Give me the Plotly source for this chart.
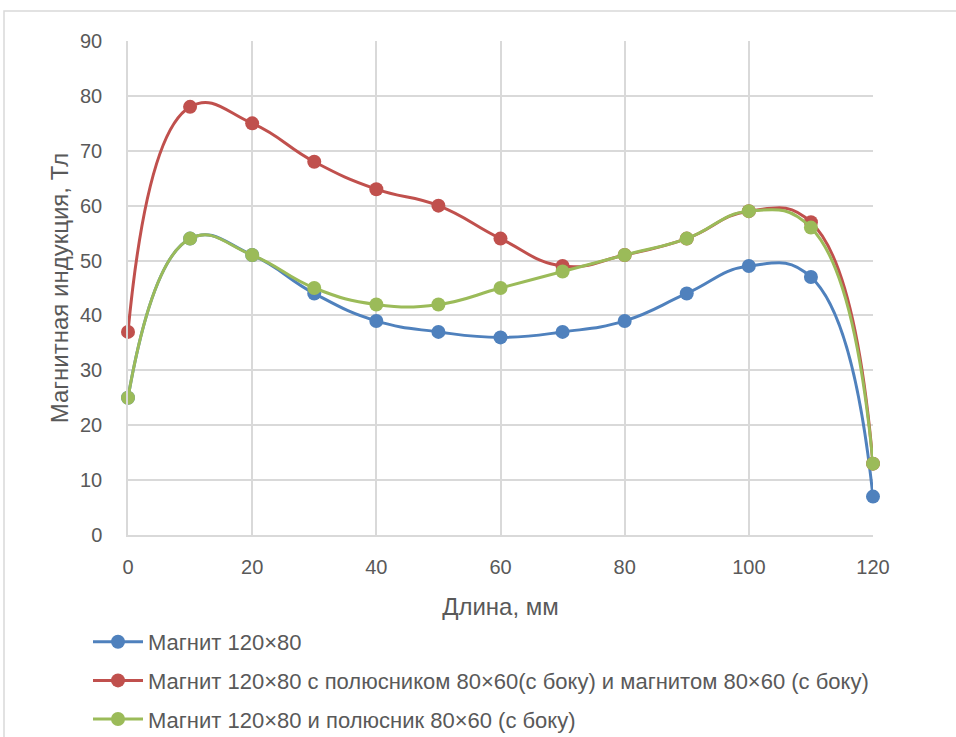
import plotly.graph_objects as go

# Position along the magnet, mm
length_mm = [0, 10, 20, 30, 40, 50, 60, 70, 80, 90, 100, 110, 120]

# Magnetic induction for each configuration
magnet_only = [25, 54, 51, 44, 39, 37, 36, 37, 39, 44, 49, 47, 7]
magnet_pole_magnet = [37, 78, 75, 68, 63, 60, 54, 49, 51, 54, 59, 57, 13]
magnet_pole = [25, 54, 51, 45, 42, 42, 45, 48, 51, 54, 59, 56, 13]

series_names = [
    "Магнит 120×80",
    "Магнит 120×80 с полюсником 80×60(с боку) и магнитом 80×60 (с боку)",
    "Магнит 120×80 и полюсник 80×60 (с боку)",
]
series_colors = ["#4F81BD", "#C0504D", "#9BBB59"]

FONT = "Liberation Sans, Arial, sans-serif"
TEXT_COLOR = "#595959"
GRID = "#D9D9D9"

fig = go.Figure()
for i, (name, values, color) in enumerate(zip(
        series_names, [magnet_only, magnet_pole_magnet, magnet_pole], series_colors)):
    fig.add_trace(go.Scatter(
        x=length_mm, y=values, name=name, legendgroup=f"g{i}",
        mode="lines+markers",
        line=dict(color=color, width=3, shape="spline", smoothing=1.3),
        marker=dict(color=color, size=14),
        cliponaxis=False,
    ))

W, H = 956, 737
L, R, T, B = 128, 83, 41, 202
pw, ph = W - L - R, H - T - B

def px_to_paper_x(px):
    return (px - L) / pw

def px_to_paper_y(py):
    return (H - B - py) / ph

fig.update_layout(
    width=W, height=H,
    margin=dict(l=L, r=R, t=T, b=B, pad=0, autoexpand=False),
    paper_bgcolor="white", plot_bgcolor="white",
    font=dict(family=FONT, size=19, color=TEXT_COLOR),
    showlegend=True,
    legend=dict(
        orientation="v",
        x=px_to_paper_x(88), y=px_to_paper_y(621),
        xanchor="left", yanchor="top",
        font=dict(family=FONT, size=22, color=TEXT_COLOR),
        itemwidth=50,
        tracegroupgap=7,
        bgcolor="rgba(0,0,0,0)",
    ),
    xaxis=dict(
        range=[0, 120], tickvals=list(range(0, 121, 20)),
        automargin=False,
        showgrid=True, gridcolor=GRID, gridwidth=1.5,
        showline=True, linecolor=GRID, linewidth=1.5,
        zeroline=False, ticks="",
        ticklabelstandoff=13,
        tickfont=dict(family=FONT, size=20, color=TEXT_COLOR),
        title=dict(text="Длина, мм", font=dict(family=FONT, size=24, color=TEXT_COLOR),
                   standoff=21),
    ),
    yaxis=dict(
        range=[0, 90], tickvals=list(range(0, 91, 10)),
        automargin=False,
        showgrid=True, gridcolor=GRID, gridwidth=1.5,
        showline=True, linecolor=GRID, linewidth=1.5,
        zeroline=False, ticks="",
        ticklabelstandoff=20,
        tickfont=dict(family=FONT, size=20, color=TEXT_COLOR),
        title=dict(text="Магнитная индукция, Тл",
                   font=dict(family=FONT, size=24, color=TEXT_COLOR),
                   standoff=5),
    ),
    shapes=[dict(
        type="rect", xref="paper", yref="paper",
        x0=px_to_paper_x(4), y0=px_to_paper_y(800),
        x1=px_to_paper_x(1000), y1=px_to_paper_y(11),
        line=dict(color=GRID, width=1.5), fillcolor="rgba(0,0,0,0)",
        layer="below",
    )],
)

fig.write_html("out.html")
